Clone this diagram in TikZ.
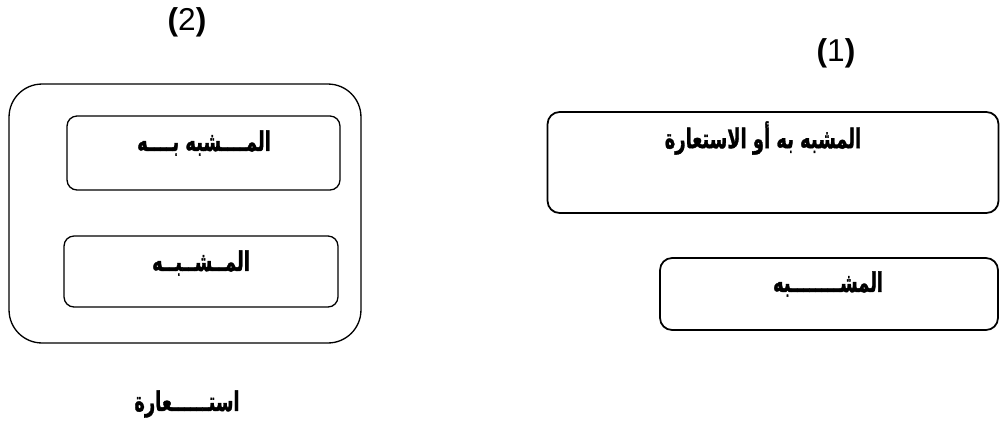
\documentclass[tikz,border=0pt]{standalone}
\usepackage{graphicx}
\usepackage{fontspec}
\setmainfont{Liberation Sans}
\newfontfamily\arabicfont[Script=Arabic, BoldFeatures={FakeBold=1.6}]{DejaVu Sans}
\TeXXeTstate=1
\usetikzlibrary{positioning}
\newcommand{\artxt}[1]{\scalebox{0.66}[1]{\arabicfont\bfseries\beginR #1\endR}}

\begin{document}
\begin{tikzpicture}[x=0.02cm, y=-0.02cm, semithick,
    frame/.style={rectangle, draw, inner sep=0pt, line width=0.75pt},
    label/.style={inner sep=1pt, font=\fontsize{15.4}{17}\selectfont},
    number/.style={inner sep=1pt, font=\fontsize{18}{20}\selectfont}
    ]
    \useasboundingbox (0,0) rectangle (1000,427);

    % left group (2)
    \node[number] (N2) at (187,22) {\textbf{(}2\textbf{)}};
    \node[frame, rounded corners=0.66cm, minimum width=7.04cm, minimum height=5.18cm] (Outer) at (185,213.5) {};
    \node[frame, rounded corners=0.2cm, minimum width=5.46cm, minimum height=1.48cm] (Top) at (203.5,153) {};
    \node[frame, rounded corners=0.2cm, minimum width=5.48cm, minimum height=1.42cm] (Bot) at (201,271.5) {};
    \node[label] (TopT) at (204,143) {\artxt{المــــشبه بــــه}};
    \node[label] (BotT) at (201,263) {\artxt{المــشــبــه}};
    \node[label] (Istiara) at (187,404) {\artxt{استــــــعارة}};

    % right group (1)
    \node[number] (N1) at (836,53) {\textbf{(}1\textbf{)}};
    \node[frame, line width=1pt, rounded corners=0.24cm, minimum width=9.02cm, minimum height=2.02cm] (Big) at (773,162.5) {};
    \node[frame, line width=1pt, rounded corners=0.24cm, minimum width=6.76cm, minimum height=1.44cm] (Small) at (829,294) {};
    \node[label] (BigT) at (763,138) {\artxt{المشبه به أو الاستعارة}};
    \node[label] (SmallT) at (828,284) {\artxt{المشــــــــبه}};
\end{tikzpicture}
\end{document}
